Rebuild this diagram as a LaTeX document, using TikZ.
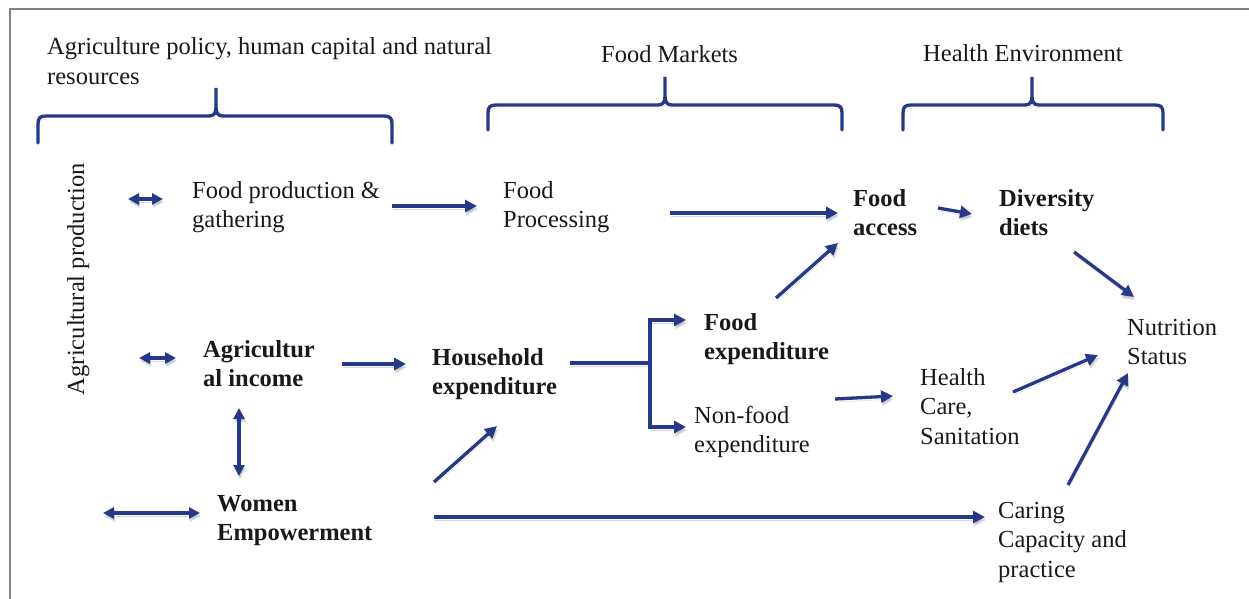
\documentclass[tikz,border=0pt]{standalone}
\usepackage{fontspec}
\setmainfont{Liberation Serif}
\usetikzlibrary{arrows.meta}
\definecolor{navy}{RGB}{38,56,138}
\definecolor{ink}{RGB}{25,25,25}
\definecolor{frame}{RGB}{130,130,130}
\newcommand\stk[1]{\vtop{\halign{##\hfil\cr#1\crcr}}}
\newcommand\mybrace[6]{%
  \draw[brc] (#1,#4) -- (#1,{#3+8}) .. controls (#1,{#3+2}) and ({#1+2},#3) .. ({#1+8},#3)
    -- ({#5-7},#3) .. controls ({#5-2},#3) and (#5,{#3-3}) .. (#5,{#3-9}) -- (#5,#6)
    -- (#5,{#3-9}) .. controls (#5,{#3-3}) and ({#5+2},#3) .. ({#5+7},#3)
    -- ({#2-8},#3) .. controls ({#2-2},#3) and (#2,{#3+2}) .. (#2,{#3+8}) -- (#2,#4);}
\begin{document}
\begin{tikzpicture}[x=1pt,y=-1pt,
  txt/.style={anchor=base west, inner sep=0pt, font=\fontsize{24.5}{29.5}\selectfont, text=ink},
  btxt/.style={txt, font=\fontsize{24.5}{29.5}\selectfont\bfseries},
  shade/.style={preaction={draw=black!30, opacity=0.5, transform canvas={shift={(1,3)}}}},
  lin/.style={draw=navy, line width=3.3pt, shade},
  con/.style={lin, -{Triangle[length=12pt,width=12pt]}},
  dcon/.style={lin, {Triangle[length=11pt,width=11pt]}-{Triangle[length=11pt,width=11pt]}},
  brc/.style={draw=navy, line width=3.3pt, line cap=round, shade}
]
\useasboundingbox (0,0) rectangle (1249,599);
\fill[white] (0,0) rectangle (1249,599);
\draw[frame, line width=2pt] (9.5,599) -- (9.5,9.5) -- (1249,9.5);

% headers
\node[txt] (hdrA) at (47,55) {\stk{Agriculture policy, human capital and natural\cr resources}};
\node[txt] (hdrM) at (601,63) {Food Markets};
\node[txt] (hdrH) at (923,62) {Health Environment};
\mybrace{38}{392}{116}{143}{216}{88}
\mybrace{488}{842}{105}{130}{665}{77}
\mybrace{903}{1163}{105}{130}{1032}{77}

% side label
\node[inner sep=0pt, rotate=90, anchor=base, font=\fontsize{24.5}{29}\selectfont, text=ink] (agp) at (84,279) {Agricultural production};

% nodes
\node[txt] (fpg) at (192,198) {\stk{Food production \&\cr gathering}};
\node[txt] (fproc) at (503,198) {\stk{Food\cr Processing}};
\node[btxt] (facc) at (853,206) {\stk{Food\cr access}};
\node[btxt] (div) at (999,206) {\stk{Diversity\cr diets}};
\node[txt] (nut) at (1127,335) {\stk{Nutrition\cr Status}};
\node[btxt] (ainc) at (203,357) {\stk{Agricultur\cr al income}};
\node[btxt] (hh) at (432,365) {\stk{Household\cr expenditure}};
\node[btxt] (fexp) at (704,330) {\stk{Food\cr expenditure}};
\node[txt] (nfexp) at (694,423) {\stk{Non-food\cr expenditure}};
\node[txt] (hc) at (920,385) {\stk{Health\cr Care,\cr Sanitation}};
\node[txt] (care) at (998,518) {\stk{Caring\cr Capacity and\cr practice}};
\node[btxt] (wom) at (217,511) {\stk{Women\cr Empowerment}};

% connector end points
\coordinate (fpgL) at (128,199); \coordinate (fpgLi) at (163,199);
\coordinate (fpgO) at (392,206); \coordinate (fprocI) at (477,206);
\coordinate (fprocO) at (670,213); \coordinate (faccI) at (838,213);
\coordinate (faccO) at (938,208); \coordinate (divI) at (972,214);
\coordinate (divO) at (1074,252); \coordinate (nutI1) at (1134,297);
\coordinate (fexpO) at (776,298); \coordinate (faccI2) at (838,243);
\coordinate (aincL) at (139,358); \coordinate (aincLi) at (176,358);
\coordinate (aincO) at (342,364); \coordinate (hhI) at (406,364);
\coordinate (aincB) at (239,408); \coordinate (womT) at (239,476);
\coordinate (womL) at (103,513); \coordinate (womLi) at (200,513);
\coordinate (womO1) at (434,482); \coordinate (hhI2) at (497,426);
\coordinate (womO2) at (434,517); \coordinate (careI) at (985,517);
\coordinate (hhO) at (570,363); \coordinate (split) at (650,363);
\coordinate (fexpI) at (686,320); \coordinate (nfexpI) at (686,427);
\coordinate (nfexpO) at (835,399); \coordinate (hcI) at (893,396);
\coordinate (hcO) at (1013,392); \coordinate (nutI2) at (1098,355);
\coordinate (careO) at (1068,485); \coordinate (nutI3) at (1128,373);

% connectors
\draw[dcon] (fpgL) -- (fpgLi);
\draw[con] (fpgO) -- (fprocI);
\draw[con] (fprocO) -- (faccI);
\draw[con] (faccO) -- (divI);
\draw[con] (divO) -- (nutI1);
\draw[con] (fexpO) -- (faccI2);
\draw[dcon] (aincL) -- (aincLi);
\draw[con] (aincO) -- (hhI);
\draw[dcon] (aincB) -- (womT);
\draw[dcon] (womL) -- (womLi);
\draw[con] (womO1) -- (hhI2);
\draw[con] (womO2) -- (careI);
\draw[lin] (hhO) -- (split);
\draw[con] (split) |- (fexpI);
\draw[con] (split) |- (nfexpI);
\draw[con] (nfexpO) -- (hcI);
\draw[con] (hcO) -- (nutI2);
\draw[con] (careO) -- (nutI3);
\end{tikzpicture}
\end{document}
